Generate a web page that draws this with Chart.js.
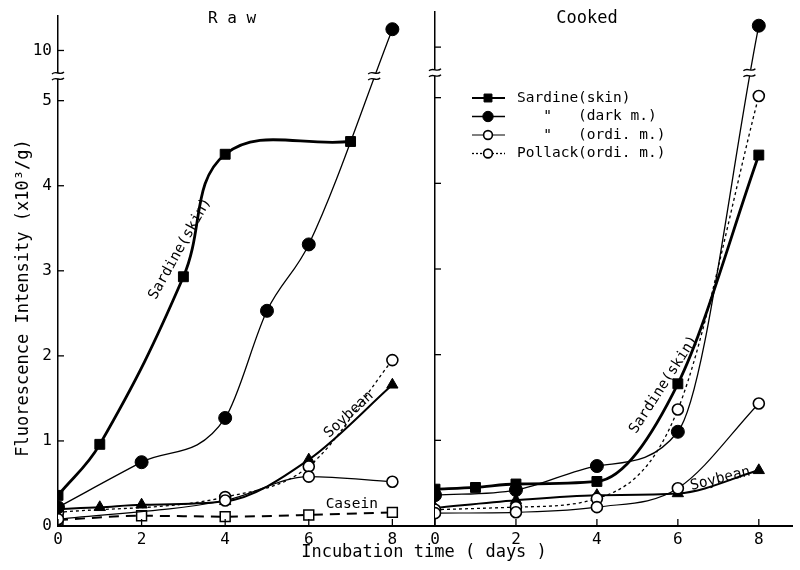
<!DOCTYPE html>
<html lang="en">
<head>
<meta charset="UTF-8">
<title>Fluorescence Intensity - Raw / Cooked</title>
<script src="https://cdn.jsdelivr.net/npm/chart.js"></script>
<style>
  body { margin: 0; background: #ffffff; }
  #wrap { position: relative; width: 800px; height: 570px; background: #ffffff; }
  #wrap canvas { position: absolute; left: 0; top: 0; }
</style>
</head>
<body>
<div id="wrap">
  <canvas id="rawChart" width="800" height="570"></canvas>
  <canvas id="cookedChart" width="800" height="570"></canvas>
</div>
<script>
const FONT = '"DejaVu Sans Mono", "Liberation Mono", monospace';

// axis ticks
const xTicks = [0, 2, 4, 6, 8];
const yTicks = [0, 1, 2, 3, 4, 5, 10];

// the y axis is broken between 5 and 10
const Y10 = 5.59;      // place of "10" on the drawn axis
const Y_BREAK = 5.29;  // place of the break marks
function axisVal(v) { return v > 5.5 ? v - 10 + Y10 : v; }

// Raw (days, x10^3/g)
const rawSkinX = [0, 1, 3, 4, 7];
const rawSkinY = [0.36, 0.96, 2.93, 4.37, 4.52];
const rawDarkX = [0, 2, 4, 5, 6, 8];
const rawDarkY = [0.22, 0.75, 1.27, 2.53, 3.31, 10.25];
const rawOrdiX = [0, 4, 6, 8];
const rawOrdiY = [0.08, 0.30, 0.58, 0.52];
const rawPollackX = [0, 4, 6, 8];
const rawPollackY = [0.16, 0.34, 0.70, 1.95];
const rawSoyX = [0, 1, 2, 4, 6, 8];
const rawSoyY = [0.20, 0.22, 0.25, 0.29, 0.78, 1.66];
const rawCaseinX = [0, 2, 4, 6, 8];
const rawCaseinY = [0.07, 0.12, 0.11, 0.13, 0.16];

// Cooked
const ckSkinX = [0, 1, 2, 4, 6, 8];
const ckSkinY = [0.43, 0.45, 0.49, 0.52, 1.66, 4.33];
const ckDarkX = [0, 2, 4, 6, 8];
const ckDarkY = [0.36, 0.42, 0.70, 1.10, 10.25];
const ckOrdiX = [0, 2, 4, 6, 8];
const ckOrdiY = [0.15, 0.16, 0.22, 0.44, 1.43];
const ckPollackX = [0, 2, 4, 6, 8];
const ckPollackY = [0.19, 0.22, 0.32, 1.36, 5.02];
const ckSoyX = [0, 2, 4, 6, 8];
const ckSoyY = [0.21, 0.30, 0.36, 0.38, 0.65];

const styles = {
  skin:    { borderWidth: 2.8, pointStyle: 'rect', pointRadius: 7, pointBackgroundColor: '#000', pointBorderWidth: 1 },
  dark:    { borderWidth: 1.3, pointStyle: 'circle', pointRadius: 6.5, pointBackgroundColor: '#000', pointBorderWidth: 1 },
  ordi:    { borderWidth: 1.2, pointStyle: 'circle', pointRadius: 5.5, pointBackgroundColor: '#fff', pointBorderWidth: 1.6 },
  pollack: { borderWidth: 1.3, borderDash: [3, 3], pointStyle: 'circle', pointRadius: 5.5, pointBackgroundColor: '#fff', pointBorderWidth: 1.6 },
  soy:     { borderWidth: 2, pointStyle: 'triangle', pointRadius: 6.5, pointBackgroundColor: '#000', pointBorderWidth: 1 },
  casein:  { borderWidth: 2, borderDash: [10, 7], pointStyle: 'rect', pointRadius: 7, pointBackgroundColor: '#fff', pointBorderWidth: 1.5 }
};

function makeSet(xs, ys, st, bezier) {
  return Object.assign({
    data: xs.map((x, i) => ({ x: x, y: axisVal(ys[i]) })),
    showLine: true,
    borderColor: '#000',
    pointBorderColor: '#000',
    tension: 0.4,
    cubicInterpolationMode: bezier ? 'default' : 'monotone'
  }, styles[st]);
}

// in-plot labels, placed in data units
const rawNotes = [
  { text: 'Sardine(skin)', x: 2.92, y: 3.26, angle: -61 },
  { text: 'Soybean', x: 6.96, y: 1.31, angle: -43 },
  { text: 'Casein', x: 7.03, y: 0.25, angle: 0 }
];
const cookedNotes = [
  { text: 'Sardine(skin)', x: 5.65, y: 1.65, angle: -57 },
  { text: 'Soybean', x: 7.05, y: 0.55, angle: -14 }
];
const legendItems = [
  { text: 'Sardine(skin)', style: 'skin' },
  { text: '   "   (dark m.)', style: 'dark' },
  { text: '   "   (ordi. m.)', style: 'ordi' },
  { text: 'Pollack(ordi. m.)', style: 'pollack' }
];

function text(ctx, str, x, y, o) {
  ctx.save();
  ctx.translate(x, y);
  if (o.angle) ctx.rotate(o.angle * Math.PI / 180);
  ctx.font = (o.size || 15) + 'px ' + FONT;
  ctx.fillStyle = '#000';
  ctx.textAlign = o.align || 'center';
  ctx.textBaseline = 'middle';
  ctx.fillText(str, 0, 0);
  ctx.restore();
}

function breakMark(ctx, x, y) {
  ctx.save();
  ctx.fillStyle = '#fff';
  ctx.fillRect(x - 6, y - 3, 12, 6);
  ctx.strokeStyle = '#000';
  ctx.lineWidth = 1.3;
  [-3, 3].forEach(dy => {
    ctx.beginPath();
    ctx.moveTo(x - 6, y + dy + 1);
    ctx.bezierCurveTo(x - 2, y + dy - 3, x + 2, y + dy + 3, x + 6, y + dy - 1);
    ctx.stroke();
  });
  ctx.restore();
}

function marker(ctx, st, x, y) {
  const s = styles[st];
  const r = s.pointRadius * 0.8;
  ctx.save();
  ctx.fillStyle = s.pointBackgroundColor;
  ctx.strokeStyle = '#000';
  ctx.lineWidth = s.pointBorderWidth;
  ctx.beginPath();
  if (s.pointStyle === 'rect') {
    const h = r * Math.SQRT1_2;
    ctx.rect(x - h, y - h, 2 * h, 2 * h);
  } else {
    ctx.arc(x, y, r, 0, Math.PI * 2);
  }
  ctx.fill();
  ctx.stroke();
  ctx.restore();
}

// inward tick marks, axis break and the dark m. line break
function drawFrame(chart, darkIndex) {
  const ctx = chart.ctx;
  const xs = chart.scales.x, ys = chart.scales.y;
  const area = chart.chartArea;
  const axisX = xs.getPixelForValue(0);
  ctx.save();
  ctx.strokeStyle = '#000';
  ctx.lineWidth = 1.3;
  xTicks.forEach(v => {
    const px = xs.getPixelForValue(v);
    ctx.beginPath(); ctx.moveTo(px, area.bottom); ctx.lineTo(px, area.bottom - 7); ctx.stroke();
  });
  yTicks.slice(1).forEach(v => {
    const py = ys.getPixelForValue(axisVal(v));
    ctx.beginPath(); ctx.moveTo(axisX, py); ctx.lineTo(axisX + 6, py); ctx.stroke();
  });
  ctx.restore();
  const by = ys.getPixelForValue(Y_BREAK);
  breakMark(ctx, axisX, by);
  const pts = chart.getDatasetMeta(darkIndex).data;
  const a = pts[pts.length - 2], b = pts[pts.length - 1];
  const f = (a.y - by) / (a.y - b.y);
  breakMark(ctx, a.x + f * (b.x - a.x), by);
}

function options(cfg) {
  return {
    responsive: false,
    animation: false,
    layout: { padding: cfg.padding },
    plugins: { legend: { display: false }, tooltip: { enabled: false } },
    scales: {
      x: {
        type: 'linear', min: 0, max: cfg.xMax,
        afterBuildTicks: s => { s.ticks = xTicks.map(v => ({ value: v })); },
        afterFit: s => { s.height = 44; },
        grid: { drawOnChartArea: false, drawTicks: false },
        border: { color: '#000', width: 2 },
        ticks: { color: '#000', padding: 4, maxRotation: 0, font: { family: FONT, size: 16 } }
      },
      y: {
        type: 'linear', min: 0, max: 6,
        afterBuildTicks: s => { s.ticks = yTicks.map(v => ({ value: axisVal(v) })); },
        afterFit: s => { s.width = cfg.yWidth; },
        grid: { drawOnChartArea: false, drawTicks: false },
        border: { color: '#000', width: 1.5 },
        ticks: {
          display: cfg.yLabels, color: '#000', padding: 6,
          font: { family: FONT, size: 16 },
          callback: (v, i) => String(yTicks[i])
        }
      }
    }
  };
}

new Chart(document.getElementById('rawChart'), {
  type: 'scatter',
  data: {
    datasets: [
      makeSet(rawSkinX, rawSkinY, 'skin', true),
      makeSet(rawDarkX, rawDarkY, 'dark'),
      makeSet(rawOrdiX, rawOrdiY, 'ordi'),
      makeSet(rawPollackX, rawPollackY, 'pollack'),
      makeSet(rawSoyX, rawSoyY, 'soy'),
      makeSet(rawCaseinX, rawCaseinY, 'casein')
    ]
  },
  options: options({ padding: { left: 0, right: 365, top: 12, bottom: 0 }, xMax: 9.02, yWidth: 58, yLabels: true }),
  plugins: [{
    id: 'rawDecor',
    afterDraw(chart) {
      const ctx = chart.ctx;
      drawFrame(chart, 1);
      text(ctx, 'R a w', 232, 19, { size: 16 });
      text(ctx, 'Fluorescence Intensity (x10³/g)', 24, 298, { size: 17, angle: -90 });
      text(ctx, 'Incubation time ( days )', 424, 553, { size: 17 });
      rawNotes.forEach(n => text(ctx, n.text, chart.scales.x.getPixelForValue(n.x),
        chart.scales.y.getPixelForValue(n.y), { size: 14.5, angle: n.angle }));
    }
  }]
});

new Chart(document.getElementById('cookedChart'), {
  type: 'scatter',
  data: {
    datasets: [
      makeSet(ckSkinX, ckSkinY, 'skin'),
      makeSet(ckDarkX, ckDarkY, 'dark'),
      makeSet(ckOrdiX, ckOrdiY, 'ordi'),
      makeSet(ckPollackX, ckPollackY, 'pollack'),
      makeSet(ckSoyX, ckSoyY, 'soy')
    ]
  },
  options: options({ padding: { left: 435, right: 0, top: 12, bottom: 0 }, xMax: 8.82, yWidth: 0, yLabels: false }),
  plugins: [{
    id: 'cookedDecor',
    afterDraw(chart) {
      const ctx = chart.ctx;
      drawFrame(chart, 1);
      text(ctx, 'Cooked', 587, 19, { size: 17 });
      cookedNotes.forEach(n => text(ctx, n.text, chart.scales.x.getPixelForValue(n.x),
        chart.scales.y.getPixelForValue(n.y), { size: 14.5, angle: n.angle }));
      // legend
      legendItems.forEach((it, i) => {
        const y = 98 + i * 18.5;
        const s = styles[it.style];
        ctx.save();
        ctx.strokeStyle = '#000';
        ctx.lineWidth = Math.min(s.borderWidth, 2);
        ctx.setLineDash(s.borderDash ? [2, 2] : []);
        ctx.beginPath(); ctx.moveTo(472, y); ctx.lineTo(505, y); ctx.stroke();
        ctx.restore();
        marker(ctx, it.style, 488, y);
        text(ctx, it.text, 517, y, { size: 14.5, align: 'left' });
      });
    }
  }]
});
</script>
</body>
</html>
